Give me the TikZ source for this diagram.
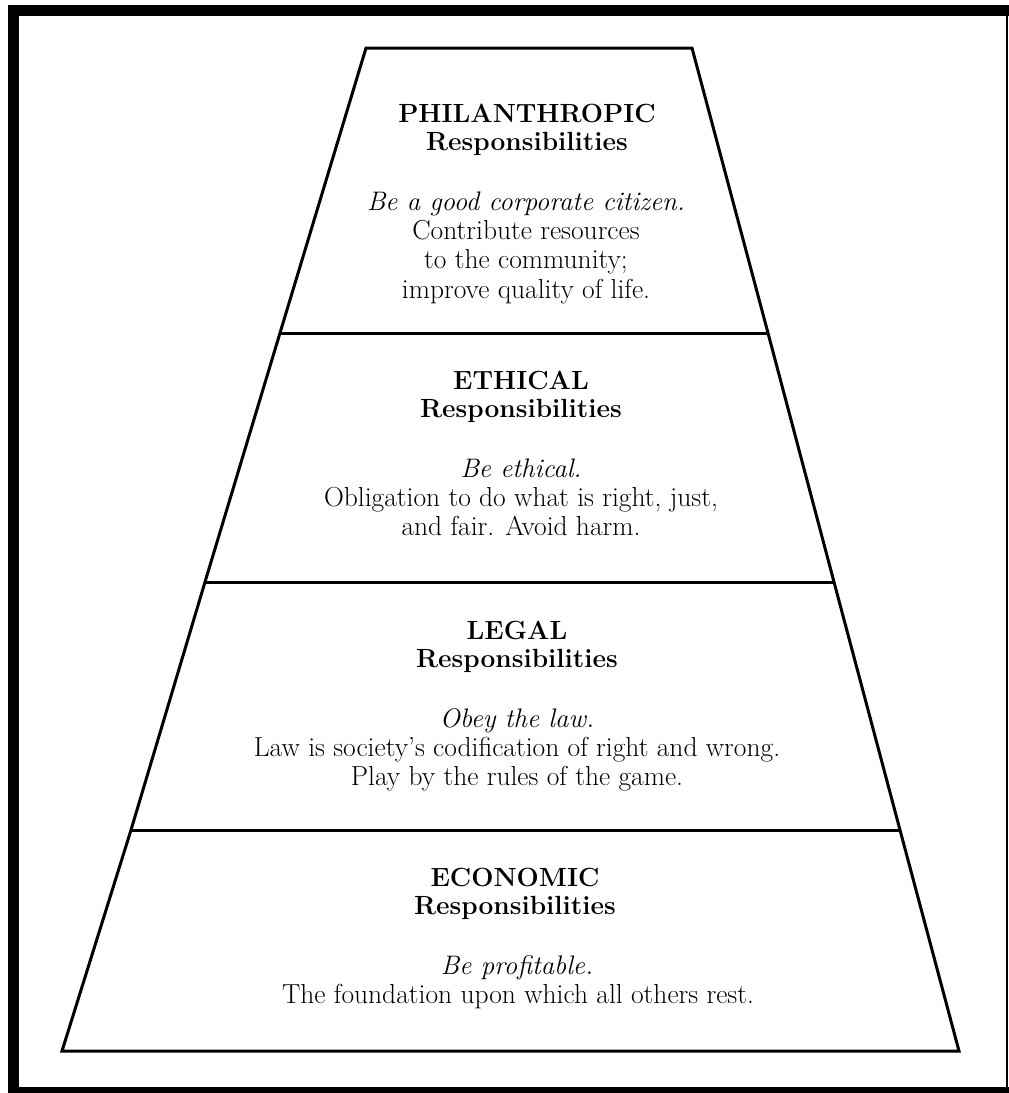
\documentclass[tikz,border=0pt]{standalone}
\usetikzlibrary{calc}
\begin{document}
\begin{tikzpicture}[x=1pt,y=-1pt,
  edge/.style={line width=3pt,line join=miter,line cap=butt},
  head/.style={anchor=base,inner sep=0pt,font=\fontsize{26.3}{29}\selectfont\bfseries},
  body/.style={anchor=base,inner sep=0pt,font=\fontsize{27.5}{29}\selectfont},
  motto/.style={anchor=base,inner sep=0pt,font=\fontsize{26.8}{29}\selectfont\itshape}]
% page and frame
\useasboundingbox (0,0) rectangle (1009,1093);
\fill[white] (0,0) rectangle (1009,1093);
\fill[black] (8,5) rectangle (19,1093);
\fill[black] (8,5) rectangle (1009,16);
\fill[black] (8,1087) rectangle (1009,1093);
\draw[line width=1.5pt] (1007,16) -- (1007,1087);
% corners of the tiers
\coordinate (tl) at (366,48);   \coordinate (tr) at (692,48);
\coordinate (l1) at (280,333);  \coordinate (r1) at (768,333);
\coordinate (l2) at (205,582);  \coordinate (r2) at (834,582);
\coordinate (l3) at (131,830);  \coordinate (r3) at (900,830);
\coordinate (bl) at (62,1051);  \coordinate (br) at (959,1051);
% pyramid outline and tier dividers
\draw[edge] (tl) -- (tr) -- (r1) -- (r2) -- (r3) -- (br) -- (bl) -- (l3) -- (l2) -- (l1) -- cycle;
\draw[edge] (l1) -- (r1);
\draw[edge] (l2) -- (r2);
\draw[edge] (l3) -- (r3);
% philanthropic tier
\node[head]  (ph1) at (527,122) {PHILANTHROPIC};
\node[head]  (ph2) at (527,150) {Responsibilities};
\node[motto] (ph3) at (526,210) {Be a good corporate citizen.};
\node[body]  (ph4) at (526,239) {Contribute resources};
\node[body]  (ph5) at (526,268) {to the community;};
\node[body]  (ph6) at (526,298) {improve quality of life.};
% ethical tier
\node[head]  (et1) at (521,389) {ETHICAL};
\node[head]  (et2) at (521,417) {Responsibilities};
\node[motto] (et3) at (521,477) {Be ethical.};
\node[body]  (et4) at (521,506) {Obligation to do what is right, just,};
\node[body]  (et5) at (521,535) {and fair. Avoid harm.};
% legal tier
\node[head]  (lg1) at (517,639) {LEGAL};
\node[head]  (lg2) at (517,667) {Responsibilities};
\node[motto] (lg3) at (517,727) {Obey the law.};
\node[body]  (lg4) at (517,756) {Law is society's codification of right and wrong.};
\node[body]  (lg5) at (517,785) {Play by the rules of the game.};
% economic tier
\node[head]  (ec1) at (515,886) {ECONOMIC};
\node[head]  (ec2) at (515,914) {Responsibilities};
\node[motto] (ec3) at (517,974) {Be profitable.};
\node[body]  (ec4) at (518,1003) {The foundation upon which all others rest.};
\end{tikzpicture}
\end{document}
